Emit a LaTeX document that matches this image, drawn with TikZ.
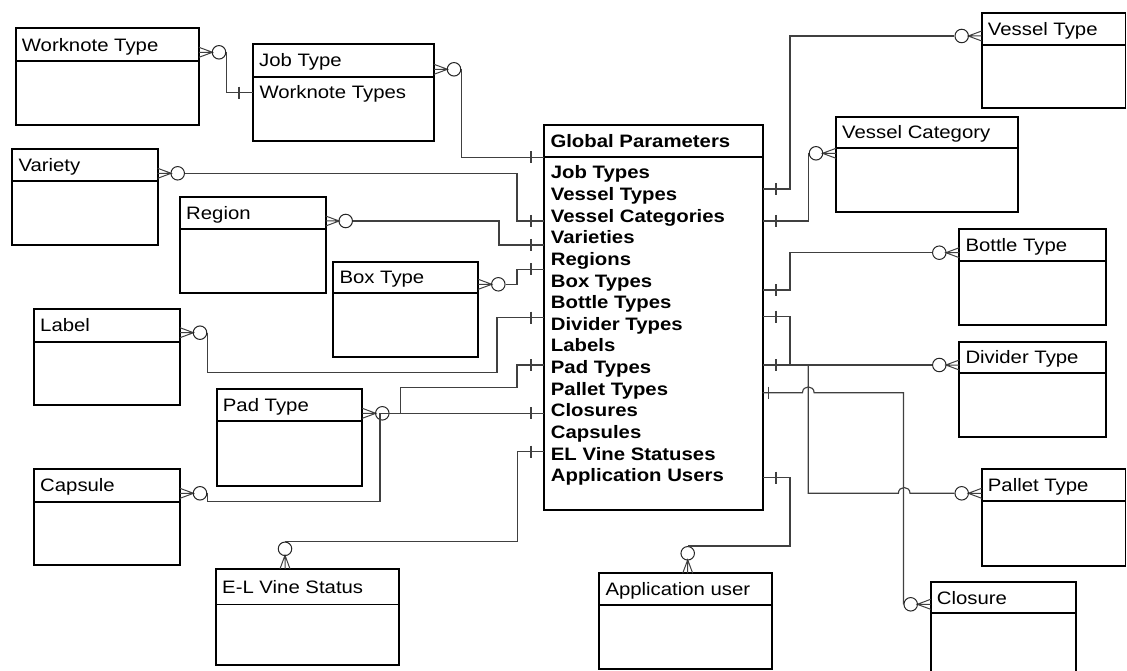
\documentclass[tikz,border=0pt]{standalone}
\usepackage{fontspec}
\setmainfont{Liberation Sans}[FakeStretch=1.13]
\tikzset{
  ebox/.style={draw=black, line width=1.8pt, inner sep=0pt, outer sep=0pt},
  esep/.style={draw=black, line width=1.8pt},
  etitle/.style={anchor=west, inner sep=0pt, text height=12.9pt, text depth=0pt, font=\fontsize{18}{21}\selectfont},
  gprow/.style={etitle, font=\fontsize{18}{21}\selectfont\bfseries},
  conn/.style={draw=black!75, line width=1.15pt},
  foot/.style={draw=black!75, line width=1pt},
  ecirc/.style={circle, draw=black!85, line width=1pt, minimum size=13.5pt, inner sep=0pt},
}
\newcommand\erent[7]{%
  \node[ebox, anchor=north west, minimum width={(#4-#2)*1pt}, minimum height={(#5-#3)*1pt}] (#1) at (#2,#3) {};
  \draw[esep] (#2,#6) -- (#4,#6);
  \node[etitle] (#1-t) at (#2+6,{(#3+#6)/2}) {#7};
}
\newcommand\crowR[3]{%
  \draw[foot] (#2,#3-5) -- (#2+13.5,#3) -- (#2,#3+5) (#2,#3) -- (#2+13.5,#3);
  \node[ecirc] (#1) at (#2+20,#3) {};
}
\newcommand\crowL[3]{%
  \draw[foot] (#2,#3-5) -- (#2-13.5,#3) -- (#2,#3+5) (#2,#3) -- (#2-13.5,#3);
  \node[ecirc] (#1) at (#2-20,#3) {};
}
\newcommand\crowT[3]{%
  \draw[foot] (#2-5,#3) -- (#2,#3-13.5) -- (#2+5,#3) (#2,#3) -- (#2,#3-13.5);
  \node[ecirc] (#1) at (#2,#3-20) {};
}
\newcommand\onebar[2]{\draw[conn] (#1,#2-6) -- (#1,#2+6);}
\begin{document}
\begin{tikzpicture}[x=1pt,y=-1pt]
\useasboundingbox (0,0) rectangle (1127,671);
% entities
\erent{eWT}{15.7}{28.3}{199}{125}{61}{Worknote Type}
\crowR{cWT}{199}{52.3}
\erent{eJT}{253}{44.3}{434}{140.7}{76.7}{Job Type}
\node[etitle] (eJT-a) at (259.3,92.3) {Worknote Types};
\crowR{cJT}{434}{69.3}
\erent{eVar}{12.3}{149}{157.7}{245}{181}{Variety}
\crowR{cVar}{157.7}{173.3}
\erent{eReg}{180}{197.3}{325.7}{293.3}{229}{Region}
\crowR{cReg}{325.7}{221}
\erent{eBox}{333.3}{261.7}{478.3}{357.3}{293.3}{Box Type}
\crowR{cBox}{478.3}{284.3}
\erent{eLab}{34}{309.3}{180}{405}{341.7}{Label}
\crowR{cLab}{180}{332.7}
\erent{ePad}{216.7}{389.3}{362.3}{485.7}{421}{Pad Type}
\crowR{cPad}{362.3}{413.3}
\erent{eCap}{34}{469.3}{180}{565}{501.7}{Capsule}
\crowR{cCap}{180}{493.3}
\erent{eEL}{216}{568.8}{399}{665}{604.4}{E-L Vine Status}
\crowT{cEL}{285}{568.8}
\erent{eApp}{599.3}{573.3}{772.3}{669.3}{605}{Application user}
\crowT{cApp}{687.7}{573.3}
\erent{gp}{544.3}{125}{762.7}{510}{157.3}{\bfseries Global Parameters}
\foreach \t [count=\i] in {Job Types,Vessel Types,Vessel Categories,Varieties,Regions,Box Types,Bottle Types,Divider Types,Labels,Pad Types,Pallet Types,Closures,Capsules,EL Vine Statuses,Application Users}
  \node[gprow] (gpr\i) at (550.7,{172.3+21.65*(\i-1)}) {\t};
\erent{eVT}{981.7}{12.7}{1125.5}{108.3}{45}{Vessel Type}
\crowL{cVT}{981.7}{36}
\erent{eVC}{836}{116.7}{1017.7}{212.3}{148.3}{Vessel Category}
\crowL{cVC}{836}{153.3}
\erent{eBT}{959.3}{229}{1105.7}{325}{261}{Bottle Type}
\crowL{cBT}{959.3}{252.7}
\erent{eDT}{959.3}{341.7}{1105.7}{437.3}{373.3}{Divider Type}
\crowL{cDT}{959.3}{365}
\erent{ePT}{981.7}{469.3}{1125.5}{565.7}{501}{Pallet Type}
\crowL{cPT}{981.7}{493.3}
\erent{eCl}{930.7}{582.3}{1075.7}{678}{613.3}{Closure}
\crowL{cCl}{930.7}{604.3}
% connectors, left side
\draw[conn] (cWT.east) -- (cWT.east |- 0,92.7) -- (eJT.west |- 0,92.7);
\onebar{239}{92.7}
\draw[conn] (cJT.east) -- (cJT.east |- 0,157.3) -- (gp.west |- 0,157.3);
\onebar{531}{157.3}
\draw[conn] (cVar.east) -- (517,173.3) -- (517,221) -- (gp.west |- 0,221);
\onebar{531}{221}
\draw[conn] (cReg.east) -- (499,221) -- (499,245) -- (gp.west |- 0,245);
\onebar{531}{245}
\draw[conn] (cBox.east) -- (517,284.3) -- (517,269.3) -- (gp.west |- 0,269.3);
\onebar{531}{269.3}
\draw[conn] (cLab.east) -- (cLab.east |- 0,372.7) -- (497,372.7) -- (497,317.7) -- (gp.west |- 0,317.7);
\onebar{531}{317.7}
\draw[conn] (cPad.east) -- (400.5,413.3) -- (400.5,387.7) -- (517,387.7) -- (517,365) -- (gp.west |- 0,365);
\onebar{531}{365}
\draw[conn] (cCap.east) -- (cCap.east |- 0,501.7) -- (380,501.7) -- (380,413.3) -- (gp.west |- 0,413.3);
\onebar{531}{413.3}
\draw[conn] (cEL.north) -- (cEL.north -| 517.4,0) -- (517.4,451.7) -- (gp.west |- 0,451.7);
\onebar{531}{451.7}
% connectors, right side
\draw[conn] (cApp.north) -- (cApp.north -| 790,0) -- (790,477.7) -- (gp.east |- 0,477.7);
\onebar{776}{477.7}
\draw[conn] (cVT.west) -- (790,36) -- (790,189) -- (gp.east |- 0,189);
\onebar{776}{189}
\draw[conn] (cVC.west) -- (cVC.west |- 0,221) -- (gp.east |- 0,221);
\onebar{776}{221}
\draw[conn] (cBT.west) -- (790,252.7) -- (790,290) -- (gp.east |- 0,290);
\onebar{776}{290}
\draw[conn] (cDT.west) -- (gp.east |- 0,365);
\onebar{776}{365}
\draw[conn] (gp.east |- 0,316.5) -- (790,316.5) -- (790,365);
\onebar{776}{316.5}
\coordinate (jP) at (808.3,365);
\draw[conn] (jP) -- (808.3,493.3) -- (898.4,493.3) .. controls (898.4,485.6) and (910,485.6) .. (910,493.3) -- (cPT.west);
\draw[conn] (gp.east |- 0,392.7) -- (802.5,392.7) .. controls (802.5,385) and (814.1,385) .. (814.1,392.7) -- (cCl.west |- 0,392.7) -- (cCl.west);
\onebar{768.3}{392.7}
\end{tikzpicture}
\end{document}
